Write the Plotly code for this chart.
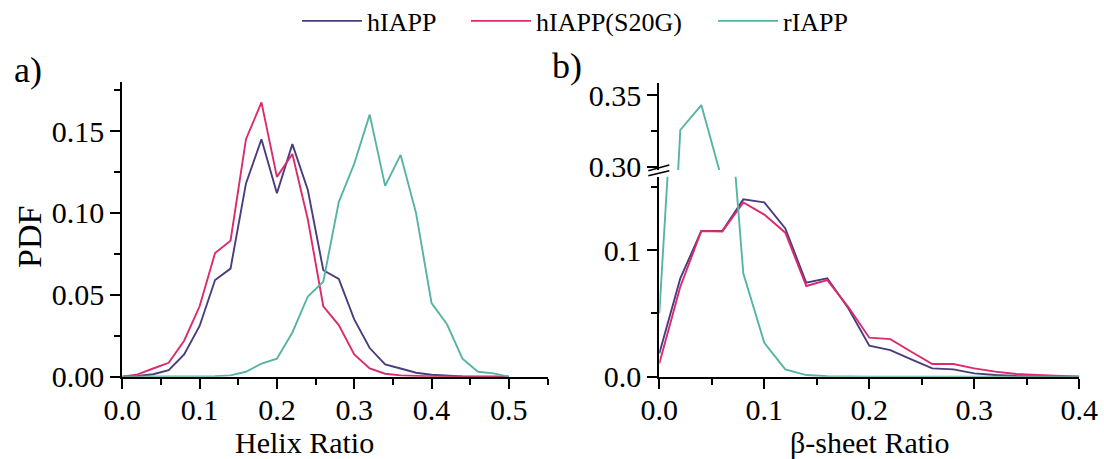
import plotly.graph_objects as go

# Bin centres of the two order parameters
helix_ratio = [0.00, 0.02, 0.04, 0.06, 0.08, 0.10, 0.12, 0.14, 0.16, 0.18,
               0.20, 0.22, 0.24, 0.26, 0.28, 0.30, 0.32, 0.34, 0.36, 0.38,
               0.40, 0.42, 0.44, 0.46, 0.48, 0.50]
sheet_ratio = [0.00, 0.02, 0.04, 0.06, 0.08, 0.10, 0.12, 0.14, 0.16, 0.18,
               0.20, 0.22, 0.24, 0.26, 0.28, 0.30, 0.32, 0.34, 0.36, 0.38, 0.40]

# Helix-ratio probability densities
helix_hiapp = [0.0, 0.0004, 0.0015, 0.004, 0.0136, 0.031, 0.059, 0.066, 0.118, 0.145,
               0.112, 0.142, 0.114, 0.065, 0.0597, 0.035, 0.0175, 0.0075, 0.005, 0.0024,
               0.0012, 0.0006, 0.0002, 0.0, 0.0, 0.0]
helix_s20g = [0.0, 0.0014, 0.005, 0.0085, 0.022, 0.043, 0.0755, 0.083, 0.145, 0.1675,
              0.122, 0.136, 0.096, 0.043, 0.0315, 0.0136, 0.005, 0.0018, 0.0008, 0.0004,
              0.0002, 0.0001, 0.0, 0.0, 0.0, 0.0]
helix_riapp = [0.0, 0.0, 0.0, 0.0, 0.0, 0.0, 0.0003, 0.0008, 0.003, 0.008,
               0.011, 0.027, 0.049, 0.058, 0.1066, 0.130, 0.160, 0.1165, 0.1354, 0.0999,
               0.045, 0.032, 0.011, 0.003, 0.002, 0.0]

# beta-sheet-ratio probability densities
sheet_hiapp = [0.0184, 0.0776, 0.115, 0.115, 0.140, 0.1376, 0.117, 0.0742, 0.0776, 0.054,
               0.0245, 0.021, 0.0137, 0.0066, 0.0058, 0.0026, 0.0013, 0.0005, 0.0003, 0.0001, 0.0]
sheet_s20g = [0.0105, 0.071, 0.115, 0.1147, 0.1376, 0.128, 0.1137, 0.0716, 0.0763, 0.055,
              0.0308, 0.0297, 0.0197, 0.010, 0.010, 0.0066, 0.004, 0.0021, 0.0013, 0.0005, 0.0]
sheet_riapp = [0.05, 0.3256, 0.343, 0.29, 0.0816, 0.0268, 0.0058, 0.0013, 0.0003, 0.0,
               0.0, 0.0, 0.0, 0.0, 0.0, 0.0, 0.0, 0.0, 0.0, 0.0, 0.0]

series_names = ["hIAPP", "hIAPP(S20G)", "rIAPP"]
series_colors = ["#4b3c7e", "#dc2a6c", "#55b5a2"]
legend_ids = ["legend", "legend2", "legend3"]

W, H = 1104, 459
FONT = "Liberation Serif"


def px_x(p):
    return p / W


def px_y(p):
    return (H - p) / H


fig = go.Figure()

helix_sets = [helix_hiapp, helix_s20g, helix_riapp]
sheet_sets = [sheet_hiapp, sheet_s20g, sheet_riapp]

for name, color, ys, lg in zip(series_names, series_colors, helix_sets, legend_ids):
    fig.add_trace(go.Scatter(x=helix_ratio, y=ys, mode="lines", name=name,
                             line=dict(color=color, width=1.9), legend=lg,
                             xaxis="x", yaxis="y"))

# right panel: lower and upper part of the broken y axis share the same data
for name, color, ys in zip(series_names, series_colors, sheet_sets):
    fig.add_trace(go.Scatter(x=sheet_ratio, y=ys, mode="lines", name=name,
                             line=dict(color=color, width=1.9), showlegend=False,
                             xaxis="x2", yaxis="y2"))
    fig.add_trace(go.Scatter(x=sheet_ratio, y=ys, mode="lines", name=name,
                             line=dict(color=color, width=1.9), showlegend=False,
                             xaxis="x2", yaxis="y3"))

axis_common = dict(showline=True, linecolor="black", linewidth=2, automargin=False,
                   ticks="outside", ticklen=10, tickwidth=2, tickcolor="black",
                   showgrid=False, zeroline=False, fixedrange=True,
                   tickfont=dict(family=FONT, size=30, color="black"))
minor_common = dict(ticks="outside", ticklen=6, tickwidth=2, tickcolor="black", showgrid=False)

legend_common = dict(orientation="h", xanchor="left", y=px_y(21), yanchor="middle",
                     font=dict(family=FONT, size=26, color="black"),
                     bgcolor="rgba(0,0,0,0)", borderwidth=0, itemwidth=60)

fig.update_layout(
    template="none",
    width=W, height=H,
    margin=dict(l=0, r=0, t=0, b=0, autoexpand=False),
    paper_bgcolor="white", plot_bgcolor="white",
    font=dict(family=FONT, color="black"),
    xaxis=dict(axis_common, domain=[px_x(122.3), px_x(547.5)], range=[0, 0.55],
               anchor="y", tickvals=[0, 0.1, 0.2, 0.3, 0.4, 0.5], tickformat=".1f",
               ticklabelstandoff=-5,
               minor=dict(minor_common, tickvals=[0.05, 0.15, 0.25, 0.35, 0.45, 0.55])),
    yaxis=dict(axis_common, domain=[px_y(376.7), px_y(81.9)], range=[0, 0.18],
               anchor="x", tickvals=[0, 0.05, 0.10, 0.15], tickformat=".2f",
               minor=dict(minor_common, tickvals=[0.025, 0.075, 0.125, 0.175])),
    xaxis2=dict(axis_common, domain=[px_x(659.3), px_x(1079.3)], range=[0, 0.4],
                anchor="y2", tickvals=[0, 0.1, 0.2, 0.3, 0.4], tickformat=".1f",
                ticklabelstandoff=-5,
                minor=dict(minor_common, tickvals=[0.05, 0.15, 0.25, 0.35])),
    yaxis2=dict(axis_common, domain=[px_y(376.7), px_y(176.7)], range=[0, 0.1579],
                anchor="x2", tickvals=[0, 0.1], tickformat=".1f",
                minor=dict(minor_common, tickvals=[0.05, 0.15])),
    yaxis3=dict(axis_common, domain=[px_y(170.0), px_y(82.7)], range=[0.2977, 0.3586],
                anchor="x2", tickvals=[0.30, 0.35], tickformat=".2f",
                minor=dict(minor_common, tickvals=[0.325])),
    legend=dict(legend_common, x=px_x(297)),
    legend2=dict(legend_common, x=px_x(466)),
    legend3=dict(legend_common, x=px_x(713)),
    showlegend=True,
)

# break marks on the right y axis
for y0, y1 in [(170.7, 165.0), (175.7, 170.7)]:
    fig.add_shape(type="line", xref="paper", yref="paper",
                  x0=px_x(648.3), y0=px_y(y0), x1=px_x(669.3), y1=px_y(y1),
                  line=dict(color="black", width=1.6))

labels = [
    dict(text="a)", x=px_x(28), y=px_y(70), size=36, angle=0),
    dict(text="b)", x=px_x(567), y=px_y(66), size=36, angle=0),
    dict(text="PDF", x=px_x(30), y=px_y(237), size=34, angle=-90),
    dict(text="Helix Ratio", x=px_x(304), y=px_y(442), size=30, angle=0),
    dict(text="β-sheet Ratio", x=px_x(869), y=px_y(442), size=30, angle=0),
]
for lab in labels:
    fig.add_annotation(text=lab["text"], x=lab["x"], y=lab["y"], xref="paper", yref="paper",
                       xanchor="center", yanchor="middle", showarrow=False,
                       textangle=lab["angle"],
                       font=dict(family=FONT, size=lab["size"], color="black"))

fig.write_html("out.html")
